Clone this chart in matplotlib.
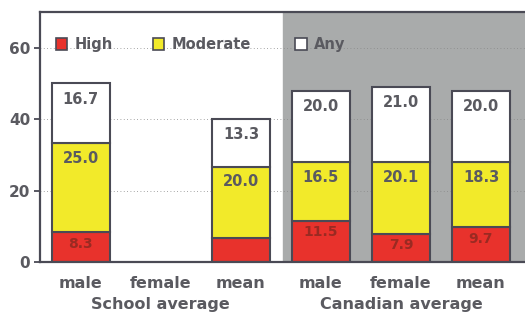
import matplotlib
matplotlib.use("Agg")
import matplotlib.pyplot as plt

categories = ["male", "female", "mean", "male", "female", "mean"]
groups = ["School average", "Canadian average"]
high = [8.3, 0.0, 6.7, 11.5, 7.9, 9.7]
moderate = [25.0, 0.0, 20.0, 16.5, 20.1, 18.3]
any_ = [16.7, 0.0, 13.3, 20.0, 21.0, 20.0]
high_labels = ["8.3", "", "", "11.5", "7.9", "9.7"]
yticks = [0, 20, 40, 60]

TXT = "#5a5a60"
EDGE = "#4a4a55"
RED = "#e8322c"
YEL = "#f2ea2a"
GREY = "#a9abab"

plt.rcParams["font.family"] = ["DejaVu Sans"]
plt.rcParams["font.weight"] = "bold"

fig = plt.figure(figsize=(5.25, 3.27), dpi=100)
ax = fig.add_axes([40 / 525, 65 / 327, 485 / 525, 250 / 327])
ax.set_xlim(-0.51, 5.55)
ax.set_ylim(0, 70)

ax.axvspan(2.525, 5.55, color=GREY, zorder=0)
for y in yticks[1:]:
    ax.axhline(y, color="#888888", lw=0.6, ls=(0, (1, 3)), zorder=0.5)

x = list(range(len(categories)))
w = 0.72
bottoms2 = [h + m for h, m in zip(high, moderate)]
for i in x:
    if high[i] + moderate[i] + any_[i] == 0:
        continue
    ax.bar(i, high[i], w, color=RED, edgecolor=EDGE, lw=1.5, zorder=2)
    ax.bar(i, moderate[i], w, bottom=high[i], color=YEL, edgecolor=EDGE, lw=1.5, zorder=2)
    ax.bar(i, any_[i], w, bottom=bottoms2[i], color="white", edgecolor=EDGE, lw=1.5, zorder=2)
    ax.text(i, bottoms2[i] + any_[i] - 4.4, f"{any_[i]:.1f}", ha="center", va="center",
            fontsize=10.5, color=TXT, fontweight="bold", zorder=3)
    ax.text(i, high[i] + moderate[i] - 4.2, f"{moderate[i]:.1f}", ha="center", va="center",
            fontsize=10.5, color=TXT, fontweight="bold", zorder=3)
    if high_labels[i]:
        ax.text(i, high[i] - 3.2, high_labels[i], ha="center", va="center",
                fontsize=10, color="#9a2a22", fontweight="bold", zorder=3)

ax.set_xticks(x)
ax.set_xticklabels(categories, fontsize=11.5, color=TXT, fontweight="bold")
ax.set_yticks(yticks)
ax.set_yticklabels([str(t) for t in yticks], fontsize=11, color=TXT, fontweight="bold")
ax.tick_params(axis="x", length=0, pad=10)
ax.tick_params(axis="y", length=4, width=1.3, color=EDGE, pad=3)

for side in ["left", "bottom", "top"]:
    ax.spines[side].set_color(EDGE)
    ax.spines[side].set_linewidth(1.6)
ax.spines["right"].set_visible(False)

ax.text(1, -0.172, groups[0], transform=ax.get_xaxis_transform(), ha="center", va="center",
        fontsize=11.5, color=TXT, fontweight="bold")
ax.text(4, -0.172, groups[1], transform=ax.get_xaxis_transform(), ha="center", va="center",
        fontsize=11.5, color=TXT, fontweight="bold")

legend_items = [("High", RED, -0.24), ("Moderate", YEL, 0.975), ("Any", "white", 2.75)]
for label, col, lx in legend_items:
    ax.bar(lx, 3.2, 0.14, bottom=59.4, color=col, edgecolor=EDGE, lw=1.2, zorder=3)
    ax.text(lx + 0.16, 61, label, ha="left", va="center", fontsize=10.5, color=TXT,
            fontweight="bold", zorder=3)

fig.savefig("out.png", dpi=100)
